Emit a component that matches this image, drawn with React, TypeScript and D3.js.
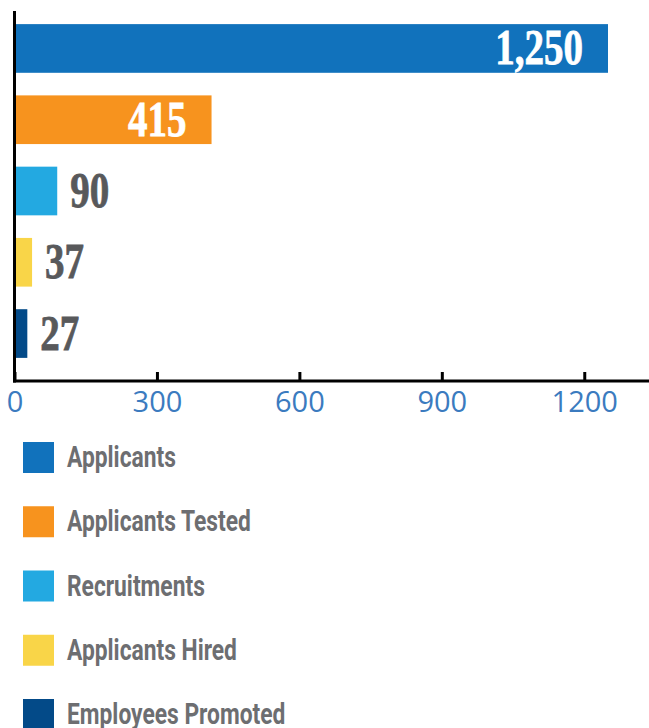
import React, { useEffect, useRef } from "react";
import { select, scaleLinear, scaleBand, axisBottom } from "d3";

const categories = [
    "Applicants",
    "Applicants Tested",
    "Recruitments",
    "Applicants Hired",
    "Employees Promoted",
];
const values = [1250, 415, 90, 37, 27];
const valueLabels = ["1,250", "415", "90", "37", "27"];
const colors = ["#1172BC", "#F7931E", "#23A9E1", "#F9D548", "#034A88"];
const tickValues = [0, 300, 600, 900, 1200];

const W = 649;
const H = 728;

const App = () => {
    const svgRef = useRef<SVGSVGElement>(null);

    useEffect(() => {
        const svg = select(svgRef.current);
        svg.selectAll("*").remove();

        const axisY = 381;
        const x = scaleLinear().domain([0, 1250]).range([14.5, 608]);
        const y = scaleBand<string>()
            .domain(categories)
            .range([12, 370])
            .paddingInner(0.317)
            .paddingOuter(0.17);

        // bars
        svg.append("g")
            .selectAll("rect")
            .data(categories)
            .join("rect")
            .attr("x", x(0) + 1.5)
            .attr("y", (d) => y(d)!)
            .attr("width", (_, i) => x(values[i]) - x(0) - 1.5)
            .attr("height", y.bandwidth())
            .attr("fill", (_, i) => colors[i]);

        // value labels (condensed bold serif)
        svg.append("g")
            .selectAll("text")
            .data(categories)
            .join("text")
            .attr("transform", (d, i) => {
                const inside = values[i] > 300;
                const tx = inside ? x(values[i]) - 25 : x(values[i]) + 13;
                const ty = y(d)! + y.bandwidth() / 2 + 16;
                return `translate(${tx},${ty}) scale(0.78,1)`;
            })
            .attr("text-anchor", (_, i) => (values[i] > 300 ? "end" : "start"))
            .attr("font-family", "'Liberation Serif', 'DejaVu Serif', serif")
            .attr("font-weight", "bold")
            .attr("font-size", 50)
            .attr("fill", (_, i) => (values[i] > 300 ? "#FFFFFF" : "#58595B"))
            .attr("stroke", (_, i) => (values[i] > 300 ? "#FFFFFF" : "#58595B"))
            .attr("stroke-width", 0.8)
            .text((_, i) => valueLabels[i]);

        // x axis
        const xAxis = svg.append("g")
            .attr("transform", `translate(0,${axisY})`)
            .call(
                axisBottom(x)
                    .tickValues(tickValues)
                    .tickSizeInner(-9)
                    .tickSizeOuter(0)
                    .tickPadding(31)
                    .tickFormat((d) => String(d))
            );
        xAxis.select(".domain").remove();
        xAxis.selectAll(".tick line")
            .attr("stroke", "#000")
            .attr("stroke-width", 3);
        xAxis.selectAll(".tick text")
            .attr("fill", "#3B7BBF")
            .attr("font-family", "'Open Sans', sans-serif")
            .attr("font-size", 29)
            .attr("dy", 0);

        svg.append("line")
            .attr("x1", x(0) - 1.5)
            .attr("x2", W)
            .attr("y1", axisY)
            .attr("y2", axisY)
            .attr("stroke", "#000")
            .attr("stroke-width", 3);

        // y axis line
        svg.append("line")
            .attr("x1", x(0))
            .attr("x2", x(0))
            .attr("y1", 11)
            .attr("y2", axisY + 1.5)
            .attr("stroke", "#000")
            .attr("stroke-width", 3);

        // legend
        const ly = scaleLinear().domain([0, 1]).range([442, 506.25]);
        const legend = svg.append("g")
            .selectAll("g")
            .data(categories)
            .join("g")
            .attr("transform", (_, i) => `translate(23,${ly(i)})`);

        legend.append("rect")
            .attr("width", 31)
            .attr("height", 31)
            .attr("fill", (_, i) => colors[i]);

        legend.append("text")
            .attr("transform", "translate(44,25) scale(0.76,1)")
            .attr("font-family", "Roboto, 'Open Sans', sans-serif")
            .attr("font-weight", "bold")
            .attr("font-size", 30)
            .attr("fill", "#6D6E71")
            .text((d) => d);

        return () => {
            svg.selectAll("*").remove();
        };
    }, []);

    return (
        <div style={{ position: "absolute", left: 0, top: 0 }}>
            <svg ref={svgRef} width={W} height={H} style={{ display: "block", background: "#fff" }} />
        </div>
    );
};

export default App;
